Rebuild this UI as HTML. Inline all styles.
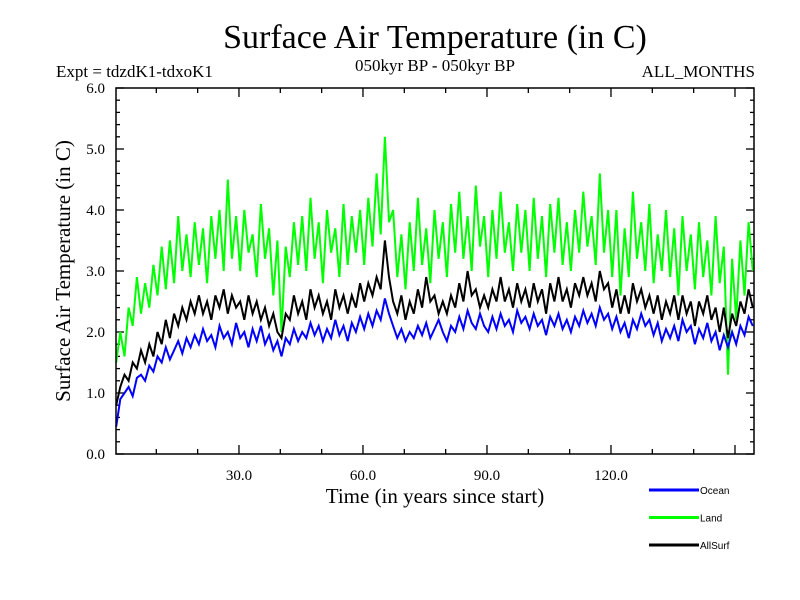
<!DOCTYPE html>
<html><head><meta charset="utf-8"><style>
body{margin:0;background:#fff;}
svg{display:block;font-family:"Liberation Serif",serif;}
</style></head><body>
<svg id="chart" width="800" height="600" viewBox="0 0 800 600">
<rect width="800" height="600" fill="#fff"/>
<text x="435" y="48" font-size="34" text-anchor="middle">Surface Air Temperature (in C)</text>
<text x="56" y="77" font-size="17">Expt = tdzdK1-tdxoK1</text>
<text x="435" y="71" font-size="17" text-anchor="middle">050kyr BP - 050kyr BP</text>
<text x="755" y="77" font-size="17" text-anchor="end">ALL_MONTHS</text>
<text x="435" y="503" font-size="21" text-anchor="middle">Time (in years since start)</text>
<text transform="translate(70,271) rotate(-90)" font-size="21" text-anchor="middle">Surface Air Temperature (in C)</text>
<g id="ticks"></g>
<g id="series"></g>
<rect x="116" y="88" width="638" height="366" fill="none" stroke="#000" stroke-width="1.5"/>
<g id="legend"></g>
</svg>
<script>
const ocean=[0.45,0.9,1.0,1.1,0.95,1.25,1.3,1.2,1.45,1.35,
1.6,1.5,1.75,1.55,1.7,1.85,1.65,1.9,1.75,1.95,
1.8,2.05,1.85,1.95,1.75,2.1,1.9,2.0,1.8,2.15,
1.9,2.0,1.75,2.05,1.85,2.1,1.8,1.95,1.7,1.85,
1.6,1.9,1.8,2.05,1.85,2.0,1.9,2.15,1.95,2.1,
1.85,2.05,1.9,2.2,1.95,2.1,1.85,2.15,2.0,2.25,
2.05,2.3,2.1,2.35,2.2,2.55,2.3,2.1,1.9,2.05,
1.85,2.0,1.9,2.1,1.95,2.15,1.9,2.05,2.2,2.0,
1.85,2.1,2.0,2.25,2.05,2.35,2.15,2.05,2.3,2.1,
2.0,2.25,2.05,2.3,2.1,2.2,2.0,2.35,2.15,2.25,
2.05,2.3,2.1,2.2,1.95,2.25,2.1,2.3,2.05,2.2,
2.0,2.25,2.1,2.35,2.15,2.3,2.1,2.4,2.2,2.3,
2.05,2.25,2.0,2.15,1.9,2.2,2.05,2.3,2.1,2.2,
1.95,2.15,1.85,2.05,1.9,2.1,1.85,2.2,2.0,2.1,
1.8,2.05,1.9,2.15,1.85,2.0,1.7,1.95,1.75,2.0,
1.8,2.1,1.95,2.25,2.1];
const land=[1.5,2.0,1.6,2.4,2.1,2.9,2.3,2.8,2.4,3.1,
2.6,3.4,2.7,3.5,2.8,3.9,3.0,3.6,2.9,3.8,
3.1,3.7,2.8,3.9,3.2,4.0,3.0,4.5,3.2,3.9,
3.0,4.0,3.3,3.6,2.9,4.1,3.2,3.7,2.6,3.5,
2.0,3.4,2.9,3.8,3.1,3.9,3.0,4.2,3.2,3.8,
2.8,4.0,3.3,3.7,2.9,4.1,3.1,3.9,3.3,4.0,
3.1,4.2,3.4,4.6,3.6,5.2,3.8,4.0,2.9,3.6,
2.7,3.8,3.0,4.2,3.1,3.7,2.8,4.0,3.2,3.8,
2.9,4.1,3.3,4.3,3.2,3.9,3.0,4.4,3.4,3.9,
2.9,4.0,3.2,4.3,3.3,3.8,3.0,4.1,3.3,4.0,
3.0,4.2,3.2,3.9,2.9,4.1,3.3,4.2,3.1,3.8,
3.0,4.0,3.3,4.3,3.4,3.9,3.1,4.6,3.3,4.0,
2.9,4.0,2.6,3.7,2.9,4.3,3.2,3.8,3.0,4.1,
2.8,3.6,3.0,4.0,2.9,3.7,2.6,3.9,3.0,3.6,
2.7,3.8,2.9,3.5,2.6,3.9,2.8,3.4,1.3,3.2,
2.2,3.5,2.6,3.8,3.0];
const allsurf=[0.8,1.1,1.3,1.2,1.5,1.4,1.7,1.5,1.8,1.6,
2.0,1.8,2.2,1.9,2.3,2.1,2.4,2.2,2.5,2.3,
2.6,2.3,2.5,2.2,2.6,2.4,2.7,2.3,2.6,2.4,
2.5,2.2,2.6,2.3,2.5,2.2,2.4,2.1,2.3,2.0,
1.9,2.3,2.2,2.6,2.3,2.5,2.2,2.7,2.4,2.6,
2.3,2.5,2.2,2.7,2.4,2.6,2.3,2.6,2.4,2.8,
2.5,2.8,2.6,2.9,2.7,3.5,2.9,2.5,2.3,2.6,
2.2,2.5,2.3,2.7,2.4,2.9,2.5,2.6,2.3,2.5,
2.3,2.6,2.4,2.8,2.5,3.0,2.6,2.7,2.4,2.6,
2.4,2.7,2.5,2.9,2.5,2.7,2.4,2.8,2.5,2.7,
2.4,2.8,2.5,2.7,2.3,2.8,2.5,2.9,2.5,2.7,
2.4,2.8,2.6,2.9,2.6,2.8,2.5,3.0,2.7,2.8,
2.4,2.7,2.3,2.6,2.3,2.8,2.5,2.7,2.4,2.6,
2.3,2.6,2.2,2.5,2.3,2.6,2.2,2.6,2.3,2.5,
2.1,2.5,2.3,2.6,2.2,2.4,2.0,2.4,1.9,2.3,
2.1,2.5,2.3,2.7,2.4];
const yTickLabels=["0.0","1.0","2.0","3.0","4.0","5.0","6.0"];
const xTickLabels=["30.0","60.0","90.0","120.0"];
const seriesNames=["Ocean","Land","AllSurf"];

const NS="http://www.w3.org/2000/svg";
const X0=116,X1=754,Y0=454,Y1=88,XMIN=0.25,XMAX=154.6,YMIN=0,YMAX=6;
function xs(v){return X0+(v-XMIN)/(XMAX-XMIN)*(X1-X0);}
function ys(v){return Y0-(v-YMIN)/(YMAX-YMIN)*(Y0-Y1);}
function mk(tag,attrs,parent){const e=document.createElementNS(NS,tag);for(const k in attrs)e.setAttribute(k,attrs[k]);parent.appendChild(e);return e;}

const tg=document.getElementById('ticks');
for(let v=0;v<=6.001;v+=0.2){
  const major=Math.abs(v-Math.round(v))<1e-6;const L=major?8:4;const y=ys(v);
  let t=mk('line',{x1:X0,x2:X0+L,y1:y,y2:y,stroke:'#000','stroke-width':1.3},tg);
  
  
  let t2=mk('line',{x1:X1,x2:X1-L,y1:y,y2:y,stroke:'#000','stroke-width':1.3},tg);
  
  
}
yTickLabels.forEach(s=>{
  const e=mk('text',{x:105,y:ys(parseFloat(s))+5,'font-size':15,'text-anchor':'end'},tg);e.textContent=s;
  
  
});
for(let v=10;v<XMAX;v+=10){
  const major=v%30===0;const L=major?9:5;const x=xs(v);
  let t=mk('line',{x1:x,x2:x,y1:Y0,y2:Y0-L,stroke:'#000','stroke-width':1.3},tg);
  
  
  let t2=mk('line',{x1:x,x2:x,y1:Y1,y2:Y1+L,stroke:'#000','stroke-width':1.3},tg);
  
  
}
xTickLabels.forEach(s=>{
  const e=mk('text',{x:xs(parseFloat(s)),y:480,'font-size':15,'text-anchor':'middle'},tg);e.textContent=s;
  
  
});

const sg=document.getElementById('series');
function draw(data,color,name){
  const pts=data.map((v,i)=>xs(i+0.3).toFixed(1)+','+ys(v).toFixed(1)).join(' ');
  const p=mk('polyline',{points:pts,fill:'none',stroke:color,'stroke-width':2,'stroke-linejoin':'miter'},sg);
  
  
}
draw(land,'#00ff00','land-line');
draw(allsurf,'#000000','allsurf-line');
draw(ocean,'#0000ff','ocean-line');

const lg=document.getElementById('legend');
const colors=['#0000ff','#00ff00','#000000'];
seriesNames.forEach((n,i)=>{
  const y=490+i*27.5;
  const l=mk('line',{x1:649,x2:699,y1:y,y2:y,stroke:colors[i],'stroke-width':3},lg);
  
  
  const t=mk('text',{x:700,y:y+4,'font-size':10,'font-family':'Liberation Sans, sans-serif'},lg);t.textContent=n;
  
  
});
</script>
</body></html>
